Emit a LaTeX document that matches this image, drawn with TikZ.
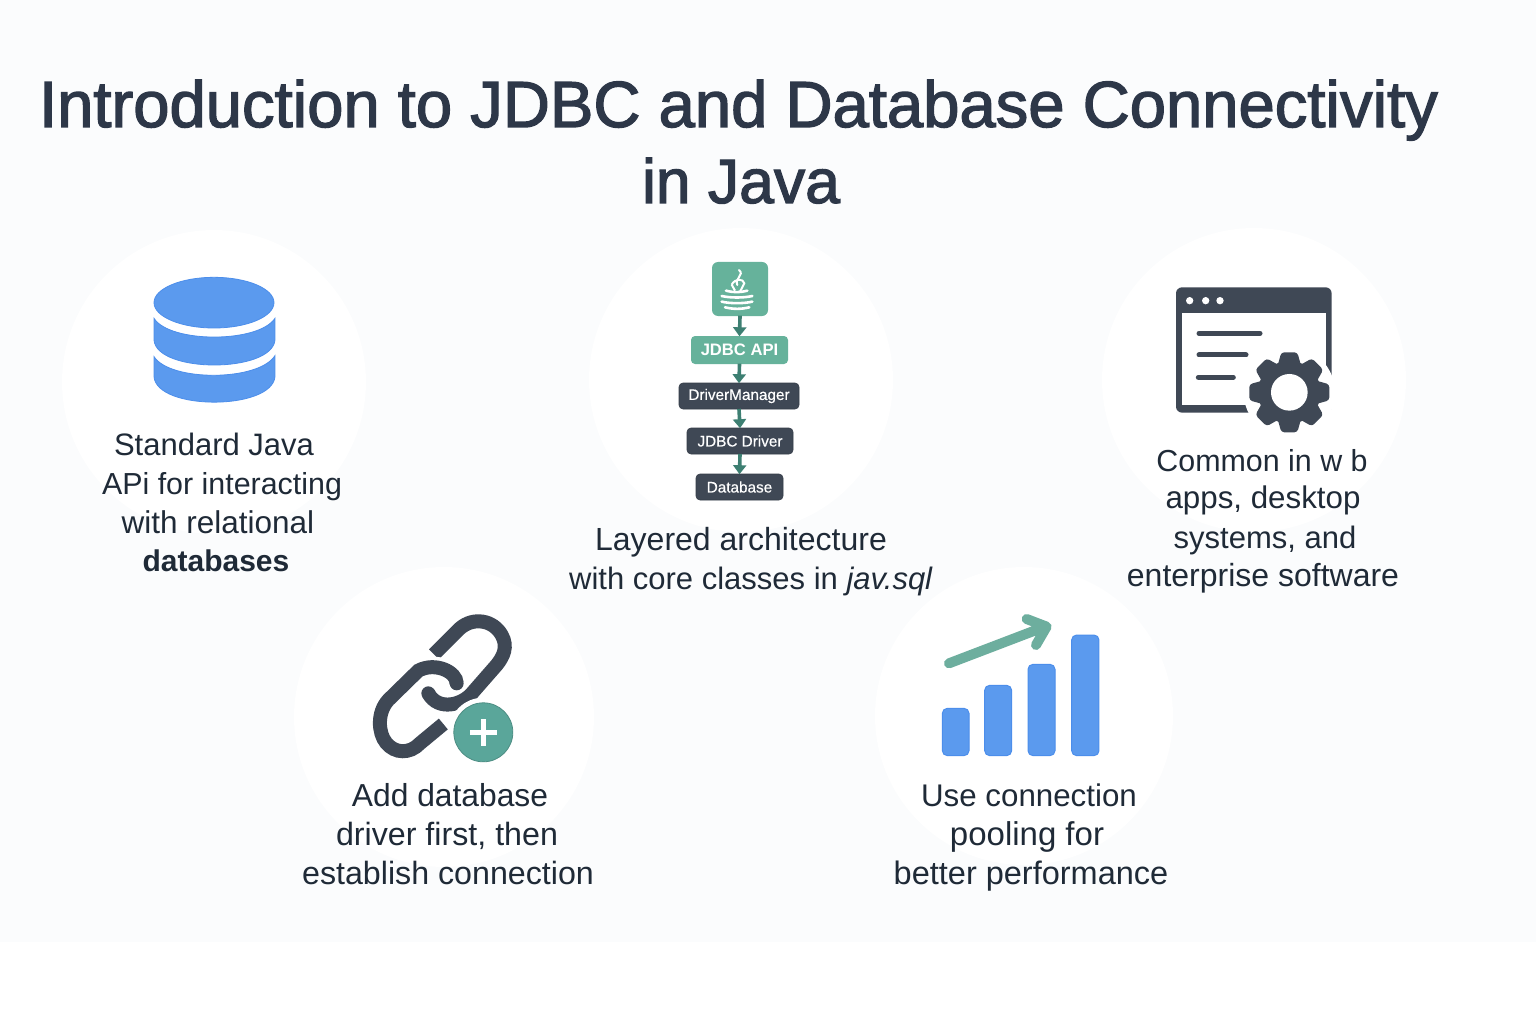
\documentclass[tikz,border=0pt]{standalone}
\usepackage{fontspec}
\setmainfont{Liberation Sans}
\newfontfamily\titlefont{Liberation Sans}[FakeBold=2]
\newfontfamily\smallfont{Liberation Sans}[FakeBold=0.5]
\usetikzlibrary{arrows.meta}
\definecolor{pagebg}{HTML}{FBFCFD}
\definecolor{titlec}{HTML}{2D3748}
\definecolor{bodyc}{HTML}{1F2A37}
\definecolor{darkc}{HTML}{3F4855}
\definecolor{bluec}{HTML}{5B9AEE}
\definecolor{blueb}{HTML}{4C8EEB}
\definecolor{greenc}{HTML}{66B29B}
\definecolor{tealc}{HTML}{5AA69A}
\definecolor{arrowc}{HTML}{6DAE9E}
\definecolor{stackarrow}{HTML}{3D7F72}
\tikzset{
  disc/.style={circle,fill=white,inner sep=0,minimum size=#1},
  titletext/.style={anchor=base,inner sep=0,text=titlec,font=\titlefont\fontsize{#1}{#1}\selectfont},
  bodytext/.style={anchor=base,inner sep=0,text=bodyc},
  fs/.style={font=\fontsize{#1}{#1}\selectfont},
  darkbox/.style={rectangle,rounded corners=4pt,fill=darkc,draw=darkc!85!black,line width=.6pt,inner sep=0,text=white,font=\smallfont\fontsize{15.3}{15.3}\selectfont},
  greenbox/.style={rectangle,rounded corners=4pt,fill=greenc,inner sep=0,text=white,font=\bfseries\fontsize{16.6}{16.6}\selectfont},
  stackflow/.style={draw=stackarrow,line width=3.6pt,-{Triangle[length=9pt,width=13pt]},shorten <=-.5pt,shorten >=-.5pt},
  barshape/.style={fill=bluec,draw=blueb,line width=1pt,rounded corners=5pt},
  dbband/.style={fill=bluec,draw=blueb,line width=.8pt}
}
\begin{document}
\begin{tikzpicture}[x=1pt,y=-1pt]
\useasboundingbox (0,0) rectangle (1536,1024);
\fill[white] (0,0) rectangle (1536,1024);
\fill[pagebg] (0,0) rectangle (1536,942);
% discs
\node[disc=304pt] (d1) at (214,382) {};
\node[disc=304pt] (d2) at (741,380) {};
\node[disc=304pt] (d3) at (1254,380) {};
\node[disc=300pt] (d4) at (444,717) {};
\node[disc=298pt] (d5) at (1024,716) {};
% title
\node[titletext=65.2] (t1) at (738.5,127) {Introduction to JDBC and Database Connectivity};
\node[titletext=62.5] (t2) at (741,203) {in Java};
% database icon
\begin{scope}[shift={(140,265)},x=.3333pt,y=-.3333pt]
\fill[dbband] (222,113) ellipse [x radius=180,y radius=76];
\fill[dbband] (42,160) .. controls (90,235) and (355,235) .. (405,160) -- (405,225) .. controls (395,325) and (50,325) .. (42,225) -- cycle;
\fill[dbband] (42,275) .. controls (90,350) and (355,350) .. (405,272) -- (405,335) .. controls (395,437) and (50,437) .. (42,335) -- cycle;
\end{scope}
% body text
\node[bodytext,fs=31] (a1) at (214,455) {Standard Java};
\node[bodytext,fs=30.4] (a2) at (222,494) {APi for interacting};
\node[bodytext,fs=31.5] (a3) at (218,533) {with relational};
\node[bodytext,font=\bfseries\fontsize{30}{30}\selectfont] (a4) at (216,571) {databases};
\node[bodytext,fs=32] (b1) at (741,550) {Layered architecture};
\node[bodytext,fs=31] (b2) at (751,589) {with core classes in \textit{jav.sql}};
\node[bodytext,fs=30.4] (c1) at (1262,471) {Common in w b};
\node[bodytext,fs=31.3] (c2) at (1263,508) {apps, desktop};
\node[bodytext,fs=31] (c3) at (1265,548) {systems, and};
\node[bodytext,fs=32] (c4) at (1263,586) {enterprise software};
\node[bodytext,fs=31.8] (e1) at (450,806) {Add database};
\node[bodytext,fs=32.2] (e2) at (447,845) {driver first, then};
\node[bodytext,fs=32.2] (e3) at (448,884) {establish connection};
\node[bodytext,fs=31.3] (f1) at (1029,806) {Use connection};
\node[bodytext,fs=33] (f2) at (1027,845) {pooling for};
\node[bodytext,fs=32.5] (f3) at (1031,884) {better performance};
% stack
\node[greenbox,minimum width=56pt,minimum height=54pt,rounded corners=6pt] (java) at (740,289) {};
\node[greenbox,minimum width=97pt,minimum height=28pt] (api) at (739.5,350) {JDBC API};
\node[darkbox,minimum width=120pt,minimum height=26pt] (mgr) at (739,396) {DriverManager};
\node[darkbox,minimum width=106pt,minimum height=26pt] (drv) at (740,441) {JDBC Driver};
\node[darkbox,minimum width=87pt,minimum height=26pt] (db) at (739.5,487) {Database};
\draw[stackflow] (java.south) -- (api.north);
\draw[stackflow] (api.south) -- (mgr.north);
\draw[stackflow] (mgr.south) -- (drv.north);
\draw[stackflow] (drv.south) -- (db.north);
\begin{scope}[shift={(660,250)},x=.3333pt,y=-.3333pt]
\draw[white,line width=2pt,line cap=round] (237,60) .. controls (255,75) and (222,85) .. (232,105);
\draw[white,line width=2pt] (215,104) .. controls (225,85) and (250,85) .. (253,100) -- (240,125) (215,104) -- (225,122);
\foreach \yy/\xa/\xb in {122/198/262,138/185/277,155/185/277,172/195/268}{
  \draw[white,line width=2.6pt,line cap=round] (\xa,\yy) .. controls (\xa+25,\yy+6) and (\xb-25,\yy+6) .. (\xb,\yy);
}
\end{scope}
% window and gear
\begin{scope}[shift={(1150,270)},x=.3333pt,y=-.3333pt]
\fill[darkc,rounded corners=6pt] (78,52) rectangle (545,428);
\fill[white] (95,130) rectangle (527,405);
\foreach \xx in {119,167,210} \fill[white] (\xx,92) circle [radius=11];
\draw[darkc,line width=5pt,line cap=round] (147,190) -- (330,190);
\draw[darkc,line width=5pt,line cap=round] (147,255) -- (288,255);
\draw[darkc,line width=5pt,line cap=round] (145,322) -- (250,322);
\fill[white] (418,367) circle [radius=137];
\foreach \aa in {0,45,...,315}{
  \fill[darkc,rotate around={\aa:(418,367)},rounded corners=3pt] (382,290) -- (394,247) -- (442,247) -- (454,290) -- cycle;
}
\fill[darkc] (418,367) circle [radius=94];
\fill[white] (418,367) circle [radius=55];
\end{scope}
% chain
\begin{scope}[shift={(360,600)},x=.3333pt,y=-.3333pt]
\draw[darkc,line width=14pt] (222,163) -- (300,85) .. controls (340,50) and (400,60) .. (425,105) .. controls (445,140) and (430,170) .. (410,195) -- (340,275) .. controls (310,315) and (235,335) .. (205,280);
\fill[darkc] (205,280) circle [radius=21];
\draw[white,line width=21pt] (180,212) .. controls (225,185) and (290,215) .. (290,250);
\draw[darkc,line width=14pt] (290,250) .. controls (290,215) and (225,185) .. (175,212) -- (85,300) .. controls (50,338) and (55,400) .. (78,428) .. controls (105,462) and (150,462) .. (180,430) -- (250,372);
\fill[darkc] (290,250) circle [radius=21];
\fill[white] (370,397) circle [radius=104];
\node[circle,fill=tealc,draw=tealc!85!black,line width=.8pt,minimum size=59pt,inner sep=0] (plus) at (370,397) {};
\draw[white,line width=5.4pt] (330,397) -- (411,397) (370,358) -- (370,438);
\end{scope}
% bars
\begin{scope}[shift={(930,600)},x=.3333pt,y=-.3333pt]
\draw[barshape] (37,325) rectangle (117,467);
\draw[barshape] (164,256) rectangle (245,467);
\draw[barshape] (294,193) rectangle (375,467);
\draw[barshape] (425,105) rectangle (507,467);
\draw[arrowc,line width=10pt,line cap=round,line join=round] (57,190) -- (345,80) (290,57) -- (350,80) -- (318,135);
\end{scope}
\end{tikzpicture}
\end{document}
